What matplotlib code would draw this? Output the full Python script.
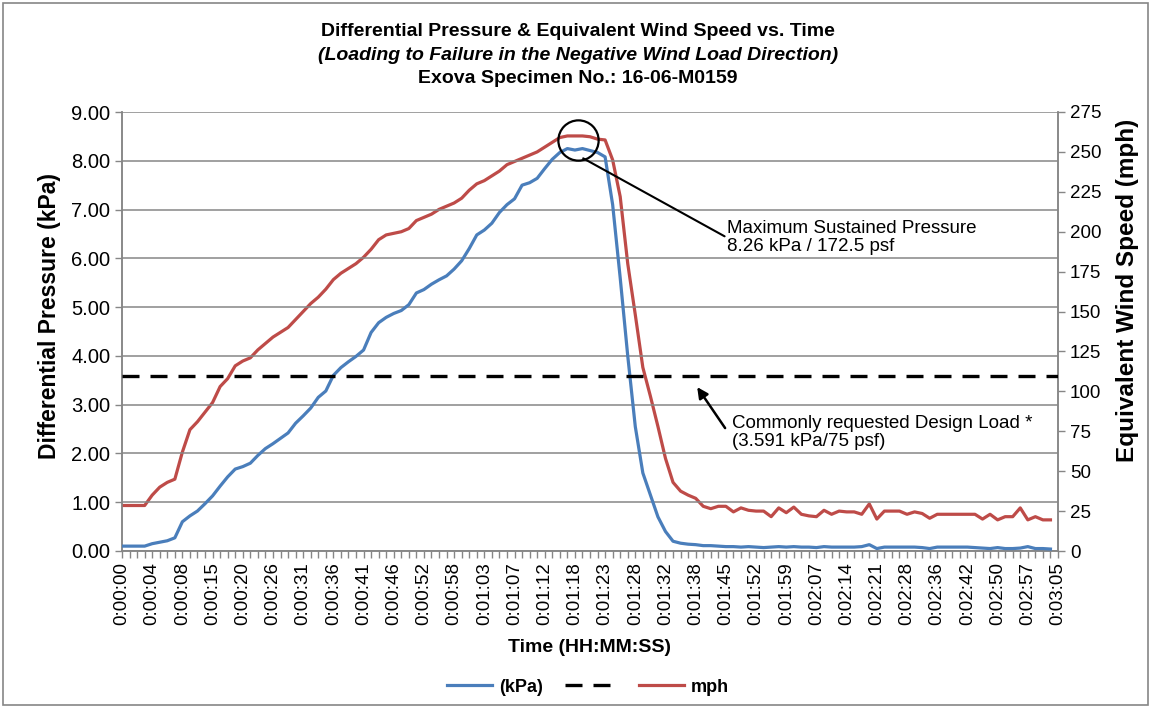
import matplotlib
matplotlib.use("Agg")
import matplotlib.pyplot as plt
from matplotlib.lines import Line2D
from matplotlib.patches import Rectangle

plt.rcParams["font.family"] = ["Liberation Sans", "DejaVu Sans"]

# time labels shown every 4th sample on the category axis
time_labels = ["0:00:00", "0:00:04", "0:00:08", "0:00:15", "0:00:20", "0:00:26",
               "0:00:31", "0:00:36", "0:00:41", "0:00:46", "0:00:52", "0:00:58",
               "0:01:03", "0:01:07", "0:01:12", "0:01:18", "0:01:23", "0:01:28",
               "0:01:32", "0:01:38", "0:01:45", "0:01:52", "0:01:59", "0:02:07",
               "0:02:14", "0:02:21", "0:02:28", "0:02:36", "0:02:42", "0:02:50",
               "0:02:57", "0:03:05"]

# differential pressure (kPa), one value per sample
kpa = [0.10, 0.10, 0.10, 0.10, 0.15, 0.18, 0.21, 0.27, 0.60, 0.72,
       0.82, 0.97, 1.13, 1.33, 1.52, 1.68, 1.73, 1.80, 1.96, 2.10,
       2.20, 2.31, 2.42, 2.62, 2.77, 2.93, 3.15, 3.28, 3.60, 3.76,
       3.88, 3.99, 4.12, 4.48, 4.68, 4.79, 4.87, 4.93, 5.05, 5.29,
       5.36, 5.47, 5.56, 5.64, 5.78, 5.95, 6.20, 6.48, 6.58, 6.72,
       6.94, 7.10, 7.22, 7.50, 7.55, 7.64, 7.84, 8.03, 8.17, 8.25,
       8.22, 8.25, 8.21, 8.17, 8.08, 7.10, 5.60, 4.00, 2.55, 1.60,
       1.15, 0.70, 0.40, 0.20, 0.16, 0.14, 0.13, 0.11, 0.11, 0.10,
       0.09, 0.09, 0.08, 0.09, 0.08, 0.07, 0.08, 0.09, 0.08, 0.09,
       0.08, 0.08, 0.07, 0.09, 0.08, 0.08, 0.08, 0.08, 0.09, 0.13,
       0.05, 0.08, 0.08, 0.08, 0.08, 0.08, 0.07, 0.05, 0.08, 0.08,
       0.08, 0.08, 0.08, 0.07, 0.06, 0.05, 0.07, 0.05, 0.05, 0.06,
       0.09, 0.05, 0.05, 0.04]

# equivalent wind speed (mph)
mph = [28.5, 28.5, 28.5, 28.5, 35, 40, 43, 45, 62, 76,
       81, 87, 93, 103, 108, 116, 119, 121, 126, 130,
       134, 137, 140, 145, 150, 155, 159, 164, 170, 174,
       177, 180, 184, 189, 195, 198, 199, 200, 202, 207,
       209, 211, 214, 216, 218, 221, 226, 230, 232, 235,
       238, 242, 244, 246, 248, 250, 253, 256, 259, 260,
       260, 260, 259.5, 258, 257.5, 245, 222, 180, 148, 115,
       97, 78, 58, 43, 37.5, 35, 33, 28, 26.5, 28,
       28, 24.5, 27, 25.5, 25, 25, 21.5, 27, 24, 27.5,
       23, 22, 21.5, 25.5, 23, 25, 24.5, 24.5, 23, 29.5,
       20, 25, 25, 25, 23, 24.5, 23.5, 20.5, 23, 23,
       23, 23, 23, 23, 20, 23, 19.5, 21.5, 21.5, 27,
       19.5, 21.5, 19.5, 19.5]

design_load = 3.591
n_cat = 125

blue = "#4a7ebb"
red = "#be4b48"
grey = "#868686"

fig = plt.figure(figsize=(11.51, 7.08), dpi=100)
ax = fig.add_axes([122 / 1151, 1 - 551 / 708, 936 / 1151, 439 / 708])
ax2 = ax.twinx()

x = list(range(len(kpa)))
ax.plot(x, kpa, color=blue, lw=2.3, zorder=3)
ax.axhline(design_load, color="black", lw=2.4, ls=(0, (5.1, 3.3)), zorder=4)
ax2.plot(x, mph, color=red, lw=2.3, zorder=3)

ax.set_xlim(0, n_cat - 1)
ax.set_ylim(0, 9)
ax2.set_ylim(0, 275)
ax.set_yticks(range(0, 10))
ax.set_yticklabels([f"{v:.2f}" for v in range(0, 10)])
ax2.set_yticks(range(0, 276, 25))

ax.set_xticks(range(n_cat))
xl = [""] * n_cat
for k, lab in enumerate(time_labels):
    xl[k * 4] = lab
ax.set_xticklabels(xl, rotation=90)

ax.grid(axis="y", color=grey, lw=1.1)
ax.set_axisbelow(True)
for a in (ax, ax2):
    a.spines["top"].set_visible(False)
    for s in ("left", "right", "bottom"):
        a.spines[s].set_color(grey)
        a.spines[s].set_linewidth(1.1)
    a.tick_params(colors=grey, labelcolor="black", labelsize=13.5, length=5, width=1)
ax.tick_params(axis="y", labelsize=14.5)
ax.tick_params(axis="x", pad=3)
ax2.set_zorder(ax.get_zorder() - 1)
ax.patch.set_visible(False)

# title block
fig.text(0.502, 0.955, "Differential Pressure & Equivalent Wind Speed vs. Time",
         ha="center", va="center", fontsize=14, fontweight="bold")
fig.text(0.502, 0.922, "(Loading to Failure in the Negative Wind Load Direction)",
         ha="center", va="center", fontsize=14, fontweight="bold", style="italic")
fig.text(0.502, 0.889, "Exova Specimen No.: 16-06-M0159",
         ha="center", va="center", fontsize=14, fontweight="bold")

fig.text(0.043, 1 - 316 / 708, "Differential Pressure (kPa)", rotation=90,
         ha="center", va="center", fontsize=16.5, fontweight="bold")
fig.text(0.980, 1 - 290 / 708, "Equivalent Wind Speed (mph)", rotation=90,
         ha="center", va="center", fontsize=17.5, fontweight="bold")
fig.text(590 / 1151, 1 - 647 / 708, "Time (HH:MM:SS)",
         ha="center", va="center", fontsize=14, fontweight="bold")

# peak callout
ax.plot([60.4], [8.42], marker="o", ms=29, mfc="none", mec="black", mew=1.6, zorder=5)
ax.annotate("Maximum Sustained Pressure\n8.26 kPa / 172.5 psf",
            xy=(61.1, 8.05), xytext=(80.2, 6.42), textcoords="data",
            ha="left", va="center", fontsize=13.5, linespacing=1.1,
            arrowprops=dict(arrowstyle="-", color="black", lw=1.5,
                            shrinkA=0, shrinkB=0, relpos=(0, 0.5)))
ax.annotate("", xy=(76.2, 3.36), xytext=(79.9, 2.52),
            arrowprops=dict(arrowstyle="-|>", color="black", lw=1.8,
                            mutation_scale=16, shrinkA=0, shrinkB=0))
ax.text(80.8, 2.43, "Commonly requested Design Load *\n(3.591 kPa/75 psf)",
        ha="left", va="center", fontsize=13.5, linespacing=1.1)

handles = [Line2D([], [], color=blue, lw=2.3),
           Line2D([], [], color="black", lw=2.4, ls=(0, (5.1, 3.3))),
           Line2D([], [], color=red, lw=2.3)]
fig.legend(handles, ["(kPa)", "", "mph"], loc="center", ncol=3,
           bbox_to_anchor=(588 / 1151, 1 - 687 / 708), frameon=False,
           prop={"weight": "bold", "size": 13}, handlelength=2.5,
           handletextpad=0.4, columnspacing=1.2)

fig.patches.append(Rectangle((0.003, 0.004), 0.994, 0.992, transform=fig.transFigure,
                             fill=False, edgecolor=grey, lw=1.2))

fig.savefig("out.png", dpi=100)
